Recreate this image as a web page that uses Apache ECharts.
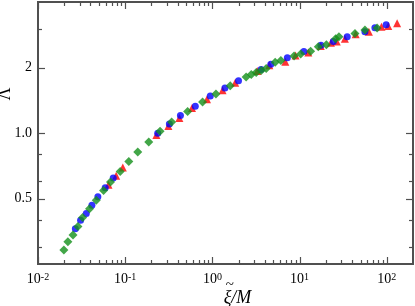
<!DOCTYPE html>
<html>
<head>
<meta charset="utf-8">
<script src="https://cdn.jsdelivr.net/npm/echarts@6/dist/echarts.min.js"></script>
<style>html,body{margin:0;padding:0;background:#fff}#c{width:415px;height:306px}</style>
</head>
<body>
<div id="c"></div>
<script>
// ---- data ----
const redX = [0.0644, 0.0789, 0.0939, 0.228, 0.313, 0.418, 0.584, 0.867, 1.308, 1.828, 3.27, 4.5, 6.86, 9.0, 12.6, 17.5, 22.9, 26.7, 33.1, 44, 62.4, 87, 104, 131.5];
const redY = [0.579, 0.636, 0.695, 0.979, 1.076, 1.171, 1.304, 1.429, 1.571, 1.703, 1.928, 2.05, 2.123, 2.27, 2.341, 2.514, 2.601, 2.636, 2.712, 2.846, 2.918, 3.076, 3.10, 3.198];
const blueX = [0.0268, 0.0308, 0.0358, 0.0415, 0.0486, 0.059, 0.0729, 0.236, 0.321, 0.43, 0.637, 0.946, 1.393, 1.994, 3.62, 4.68, 7.24, 11.2, 17.6, 24.4, 35.2, 56.2, 73.1, 98.4];
const blueY = [0.363, 0.397, 0.427, 0.466, 0.509, 0.56, 0.621, 0.997, 1.099, 1.204, 1.328, 1.48, 1.609, 1.739, 1.959, 2.07, 2.215, 2.366, 2.533, 2.636, 2.77, 2.918, 3.044, 3.142];
const greenX = [0.0198, 0.022, 0.0252, 0.0287, 0.0325, 0.039, 0.0466, 0.0565, 0.0679, 0.0877, 0.11, 0.1393, 0.1862, 0.251, 0.341, 0.52, 0.772, 1.099, 1.602, 2.44, 2.79, 3.18, 3.63, 4.14, 5.25, 6.10, 8.65, 10.3, 13.4, 16.4, 20.3, 25.9, 28.3, 43.2, 56.2, 77.6];
const greenY = [0.290, 0.316, 0.340, 0.372, 0.409, 0.449, 0.491, 0.544, 0.596, 0.666, 0.740, 0.817, 0.910, 1.018, 1.122, 1.256, 1.389, 1.511, 1.650, 1.810, 1.858, 1.898, 1.938, 1.978, 2.115, 2.153, 2.261, 2.310, 2.374, 2.494, 2.546, 2.712, 2.770, 2.867, 2.972, 3.035];

const xMajorTicks = [0.01, 0.1, 1, 10, 100];
const xTickLabels = ['10{s|-2}', '10{s|-1}', '10{s|0}', '10{s|1}', '10{s|2}'];
const xMinorTicks = [];
[0.01, 0.1, 1, 10, 100].forEach(d => { for (let k = 2; k <= 9; k++) { const v = +(d * k).toPrecision(3); if (v < 200) xMinorTicks.push(v); } });
const yMajorTicks = [0.5, 1, 2];
const yTickLabels = ['0.5', '1.0', '2'];
const yMinorTicks = [0.3, 0.4, 0.6, 0.8, 3];

const xMin = 0.01, xMax = 200, yMin = 0.25, yMax = 4;
const axisColor = '#505050';
const serif = 'Liberation Serif';

function zip(a, b) { return a.map((v, i) => [v, b[i]]); }

function tickSeries(values, dir, len) {
  return {
    type: 'custom', silent: true, z: 5, clip: false,
    data: values.map(v => dir === 'x' ? [v, 1] : [1, v]),
    renderItem(params, api) {
      const cs = params.coordSys;
      const p = api.coord([api.value(0), api.value(1)]);
      const st = { stroke: axisColor, lineWidth: 1.2 };
      if (dir === 'x') {
        const x = Math.round(p[0]) + 0.5;
        return { type: 'group', children: [
          { type: 'line', shape: { x1: x, y1: cs.y + cs.height, x2: x, y2: cs.y + cs.height - len }, style: st },
          { type: 'line', shape: { x1: x, y1: cs.y, x2: x, y2: cs.y + len }, style: st }
        ]};
      } else {
        const y = Math.round(p[1]) + 0.5;
        return { type: 'group', children: [
          { type: 'line', shape: { x1: cs.x, y1: y, x2: cs.x + len, y2: y }, style: st },
          { type: 'line', shape: { x1: cs.x + cs.width, y1: y, x2: cs.x + cs.width - len, y2: y }, style: st }
        ]};
      }
    }
  };
}

const chart = echarts.init(document.getElementById('c'), null, { renderer: 'canvas' });
chart.setOption({
  animation: false,
  backgroundColor: '#fff',
  grid: { left: 38, right: 2, top: 2, bottom: 42, containLabel: false, outerBoundsMode: 'none',
          show: true, borderColor: axisColor, borderWidth: 2, backgroundColor: 'transparent' },
  xAxis: {
    type: 'log', logBase: 10, min: xMin, max: xMax,
    axisLine: { show: false }, axisTick: { show: false }, splitLine: { show: false },
    axisLabel: {
      margin: 8, color: '#000', fontFamily: serif,
      formatter: v => { const i = xMajorTicks.findIndex(t => Math.abs(Math.log10(t) - Math.log10(v)) < 1e-6); return i >= 0 ? xTickLabels[i] : ''; },
      rich: { s: { fontSize: 10, fontFamily: serif, color: '#000', verticalAlign: 'top', lineHeight: 10, padding: [0, 0, 6, 0] } },
      fontSize: 14, showMaxLabel: false, hideOverlap: false
    },
    name: '{t|~}\n{x|\u03BE/M}', nameLocation: 'middle', nameGap: 18, nameMoveOverlap: false,
    nameTextStyle: {
      padding: [0, 0, 0, 24], verticalAlign: 'top',
      rich: {
        t: { fontFamily: serif, fontSize: 15, lineHeight: 7, color: '#000', align: 'left', padding: [0, 0, 0, 2] },
        x: { fontFamily: serif, fontStyle: 'italic', fontSize: 18, lineHeight: 18, color: '#000' }
      }
    }
  },
  yAxis: {
    type: 'log', logBase: 2, min: yMin, max: yMax,
    axisLine: { show: false }, axisTick: { show: false }, splitLine: { show: false },
    axisLabel: {
      margin: 6, color: '#000', fontFamily: serif, fontSize: 14, hideOverlap: false,
      formatter: v => { const i = yMajorTicks.findIndex(t => Math.abs(t - v) < 1e-6); return i >= 0 ? yTickLabels[i] : ''; }
    },
    name: '\u039B', nameLocation: 'middle', nameGap: 24, nameRotate: 90, nameMoveOverlap: false,
    nameTextStyle: { fontFamily: serif, fontSize: 18, color: '#000', padding: [0, 0, 0, 78] }
  },
  series: [
    tickSeries(xMajorTicks, 'x', 7),
    tickSeries(xMinorTicks, 'x', 4),
    tickSeries(yMajorTicks, 'y', 7),
    tickSeries(yMinorTicks, 'y', 4),
    { type: 'scatter', data: zip(redX, redY), symbol: 'triangle', symbolSize: 8, itemStyle: { color: '#ff0000' }, z: 2 },
    { type: 'scatter', data: zip(blueX, blueY), symbol: 'circle', symbolSize: 7, itemStyle: { color: '#0000ff' }, z: 3 },
    { type: 'scatter', data: zip(greenX, greenY), symbol: 'diamond', symbolSize: 9, itemStyle: { color: '#13901a' }, z: 4 }
  ]
});
</script>
</body>
</html>
